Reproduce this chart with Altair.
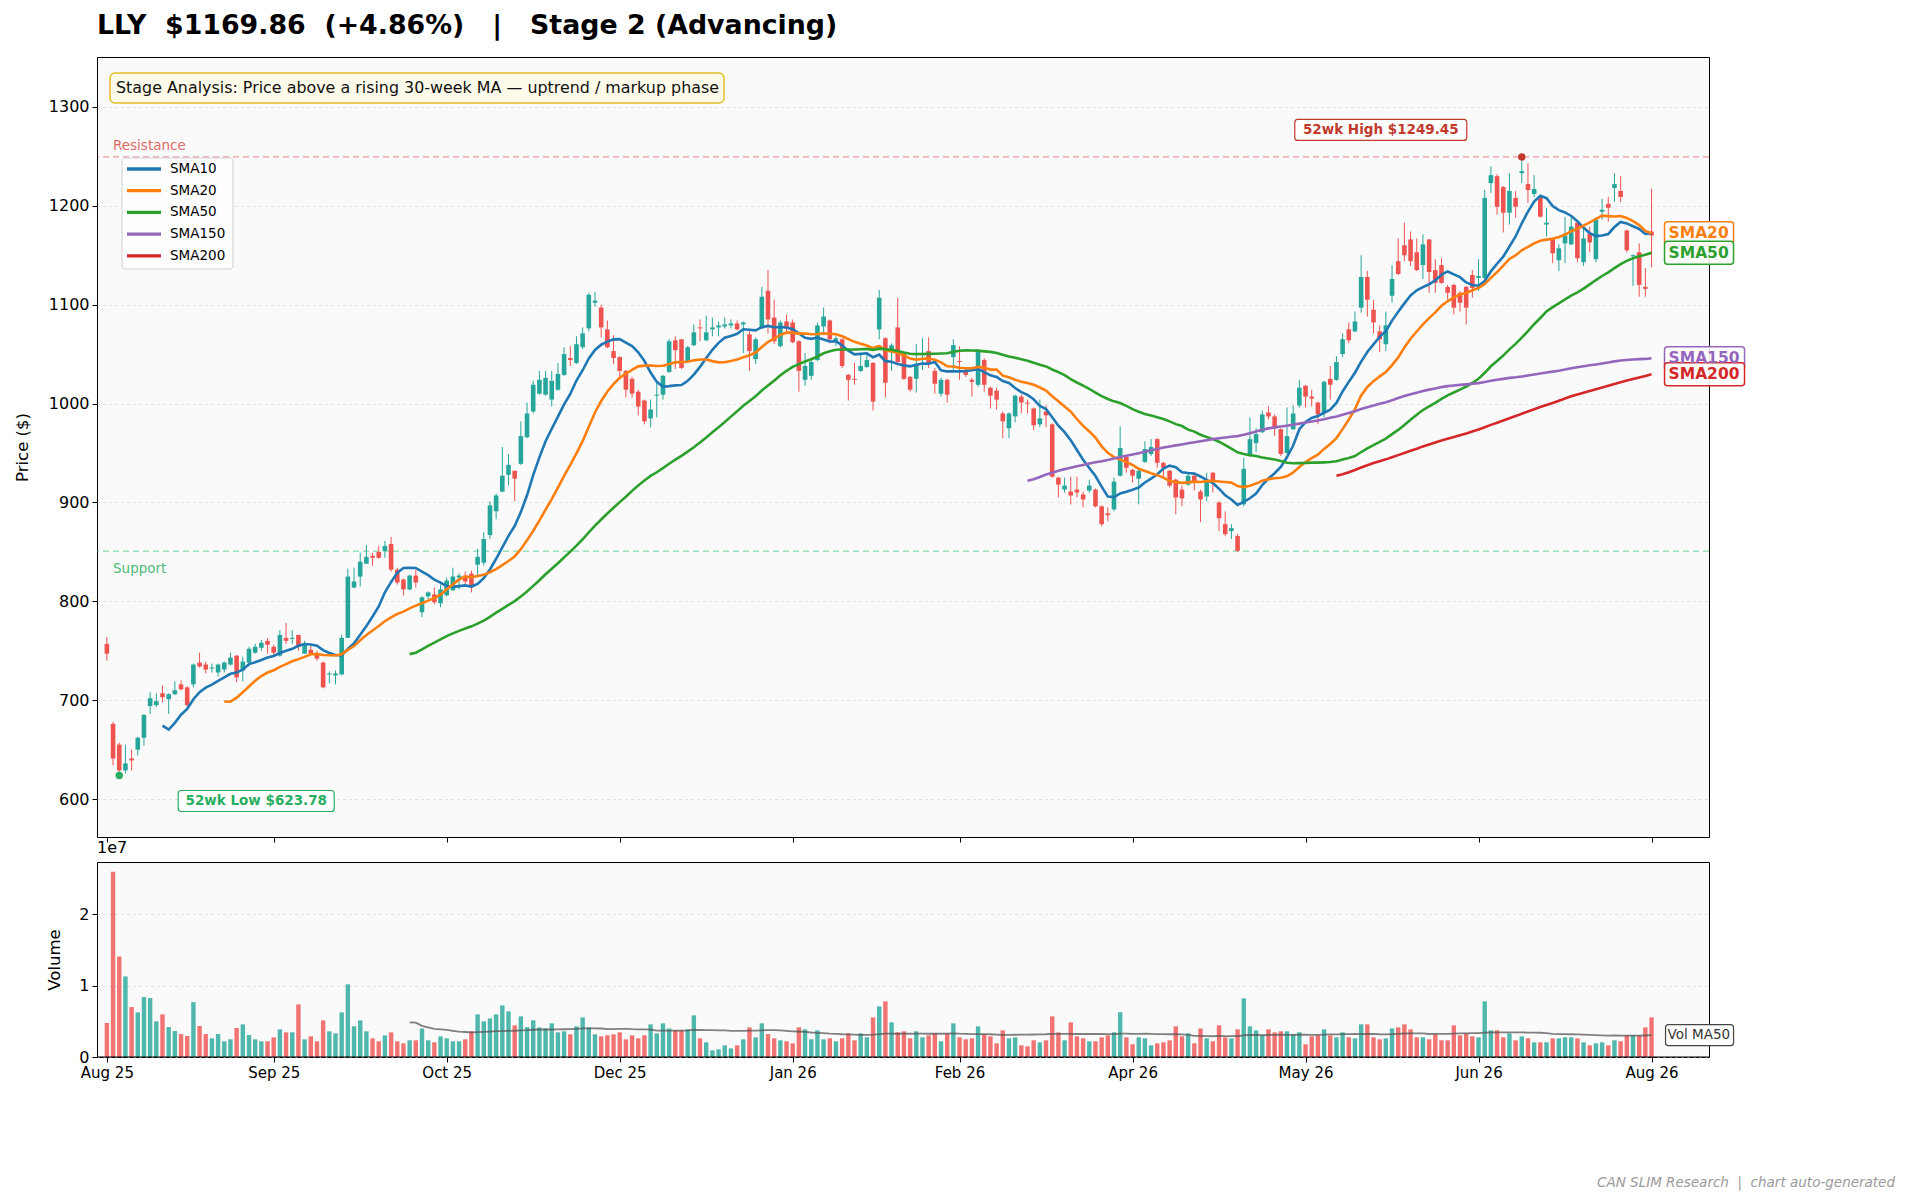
import altair as alt
import pandas as pd

TICKER = "LLY"
LAST_PRICE = 1169.86
CHANGE_PCT = 4.86
STAGE = "Stage 2 (Advancing)"
STAGE_NOTE = "Stage Analysis: Price above a rising 30-week MA \u2014 uptrend / markup phase"
RESISTANCE = 1249.45
SUPPORT = 850.8
FOOTER = "CAN SLIM Research\u00a0\u00a0|\u00a0\u00a0chart auto-generated"

TICK_POS = [0, 27, 55, 83, 111, 138, 166, 194, 222, 250]
TICK_LABELS = ["Aug 25", "Sep 25", "Oct 25", "Dec 25", "Jan 26", "Feb 26",
               "Apr 26", "May 26", "Jun 26", "Aug 26"]

SMA_NAMES = ["SMA10", "SMA20", "SMA50", "SMA150", "SMA200"]
SMA_PERIODS = [10, 20, 50, 150, 200]
SMA_COLORS = ["#1f77b4", "#ff7f0e", "#2ca02c", "#9467bd", "#d62728"]

opens = [
    757, 676, 655, 629, 641, 650, 662, 694, 695, 707,
    701, 706, 716, 713, 716, 738, 736, 732, 728, 731,
    736, 745, 730, 738, 748, 753, 760, 754, 745, 763,
    762, 766, 747, 751, 747, 738, 726, 725, 726, 763,
    814, 825, 838, 846, 850, 851, 858, 832, 822, 812,
    826, 789, 805, 807, 798, 806, 811, 824, 826, 828,
    837, 839, 867, 891, 911, 928, 932, 939, 966, 992,
    1010, 1009, 1004, 1014, 1029, 1046, 1041, 1057, 1076, 1102,
    1097, 1075, 1053, 1047, 1033, 1025, 1012, 1003, 985, 1008,
    1009, 1032, 1064, 1065, 1042, 1059, 1077, 1064, 1075, 1077,
    1078, 1079, 1081, 1080, 1070, 1045, 1076, 1114, 1087, 1058,
    1083, 1082, 1063, 1024, 1028, 1044, 1078, 1084, 1064, 1065,
    1029, 1025, 1033, 1037, 1041, 1075, 1066, 1053, 1077, 1051,
    1027, 1025, 1049, 1053, 1033, 1010, 1024, 1047, 1043, 1034,
    1024, 1019, 1044, 1016, 1013, 990, 975, 987, 1007, 1001,
    995, 979, 992, 979, 925, 913, 911, 913, 908, 912,
    913, 896, 889, 893, 927, 946, 933, 924, 941, 949,
    964, 940, 932, 923, 913, 918, 927, 911, 906, 930,
    900, 878, 871, 866, 898, 948, 960, 971, 991, 987,
    974, 950, 974, 998, 1018, 1007, 1001, 991, 1025, 1024,
    1050, 1075, 1073, 1097, 1128, 1095, 1073, 1060, 1109, 1144,
    1160, 1166, 1153, 1140, 1166, 1135, 1140, 1118, 1120, 1112,
    1118, 1130, 1127, 1127, 1223, 1230, 1219, 1193, 1208, 1233,
    1222, 1212, 1209, 1181, 1167, 1145, 1162, 1161, 1183, 1143,
    1172, 1146, 1194, 1202, 1218, 1215, 1175, 1149, 1153, 1118,
    1174,
]
highs = [
    764, 678, 657, 655, 650, 663, 686, 708, 707, 715,
    707, 719, 720, 714, 737, 748, 739, 737, 737, 739,
    748, 746, 744, 754, 757, 761, 763, 756, 771, 778,
    771, 766, 760, 755, 750, 739, 729, 730, 766, 833,
    834, 849, 857, 849, 856, 861, 865, 834, 823, 827,
    832, 805, 810, 814, 817, 824, 834, 828, 830, 831,
    853, 870, 901, 909, 956, 949, 932, 982, 1001, 1023,
    1033, 1033, 1033, 1041, 1057, 1058, 1068, 1077, 1112, 1113,
    1100, 1084, 1069, 1048, 1034, 1027, 1014, 1004, 1004, 1023,
    1029, 1065, 1068, 1065, 1058, 1080, 1085, 1089, 1087, 1083,
    1087, 1085, 1084, 1083, 1075, 1067, 1118, 1135, 1105, 1084,
    1090, 1085, 1064, 1051, 1046, 1082, 1097, 1085, 1068, 1066,
    1030, 1041, 1050, 1051, 1042, 1115, 1067, 1061, 1107, 1052,
    1028, 1060, 1066, 1067, 1036, 1026, 1025, 1065, 1058, 1036,
    1026, 1055, 1046, 1017, 1016, 992, 991, 1009, 1009, 1004,
    996, 1004, 998, 980, 926, 925, 926, 926, 911, 923,
    914, 897, 895, 925, 977, 947, 934, 933, 962, 964,
    965, 941, 933, 924, 917, 930, 930, 913, 930, 931,
    901, 891, 878, 868, 945, 986, 975, 993, 997, 989,
    975, 996, 998, 1024, 1019, 1014, 1002, 1023, 1038, 1048,
    1071, 1082, 1093, 1150, 1134, 1105, 1079, 1093, 1140, 1167,
    1183, 1174, 1167, 1171, 1166, 1146, 1147, 1120, 1121, 1114,
    1119, 1135, 1146, 1216, 1240, 1232, 1220, 1233, 1215, 1249.45,
    1243, 1231, 1210, 1198, 1168, 1161, 1189, 1188, 1185, 1179,
    1179, 1186, 1207, 1209, 1233, 1230, 1176, 1151, 1162, 1137,
    1217,
]
lows = [
    740, 634, 623.78, 626, 629, 644, 654, 686, 693, 698,
    686, 705, 710, 693, 713, 733, 727, 728, 724, 728,
    735, 718, 719, 734, 747, 750, 747, 745, 744, 757,
    757, 750, 747, 746, 740, 712, 717, 716, 725, 763,
    813, 815, 838, 836, 843, 844, 830, 817, 806, 811,
    814, 784, 802, 797, 794, 805, 811, 812, 817, 809,
    826, 836, 863, 883, 910, 917, 901, 938, 965, 990,
    1009, 1008, 997, 1013, 1028, 1038, 1040, 1055, 1073, 1098,
    1067, 1056, 1040, 1027, 1006, 1006, 988, 979, 976, 986,
    1004, 1031, 1035, 1035, 1041, 1058, 1063, 1063, 1068, 1068,
    1076, 1076, 1074, 1051, 1033, 1040, 1076, 1071, 1060, 1057,
    1070, 1061, 1012, 1018, 1024, 1043, 1071, 1061, 1058, 1036,
    1003, 1019, 1032, 1036, 993, 1065, 1006, 1033, 1041, 1024,
    1012, 1011, 1034, 1036, 1010, 1007, 1001, 1034, 1024, 1027,
    1007, 1017, 1012, 995, 994, 965, 965, 981, 990, 990,
    973, 976, 976, 925, 905, 910, 898, 905, 895, 910,
    895, 876, 881, 891, 926, 930, 920, 898, 940, 947,
    935, 926, 915, 888, 896, 917, 912, 880, 901, 910,
    871, 866, 863, 850, 896, 946, 951, 970, 984, 967,
    947, 949, 973, 996, 996, 997, 979, 986, 1004, 1023,
    1047, 1061, 1072, 1092, 1088, 1071, 1052, 1053, 1102, 1130,
    1144, 1139, 1134, 1126, 1112, 1112, 1121, 1105, 1090, 1093,
    1080, 1107, 1114, 1126, 1213, 1191, 1173, 1181, 1188, 1223,
    1203, 1209, 1188, 1169, 1142, 1134, 1142, 1160, 1143, 1139,
    1153, 1143, 1186, 1184, 1204, 1204, 1153, 1119, 1108, 1108,
    1138,
]
closes = [
    747, 641, 629, 636, 639, 662, 685, 702, 699, 703,
    706, 710, 711, 695, 736, 734, 731, 733, 736, 738,
    743, 723, 739, 752, 754, 758, 756, 748, 766, 760,
    763, 754, 757, 747, 742, 713, 727, 727, 763, 825,
    820, 840, 845, 844, 844, 856, 832, 819, 812, 826,
    819, 804, 809, 799, 812, 821, 825, 826, 820, 814,
    845, 863, 897, 907, 927, 938, 924, 967, 990, 1019,
    1024, 1026, 1023, 1030, 1050, 1044, 1060, 1071, 1110, 1104,
    1077, 1057, 1046, 1033, 1014, 1010, 997, 982, 994, 1009,
    1028, 1063, 1054, 1036, 1057, 1072, 1076, 1072, 1077, 1079,
    1080, 1081, 1075, 1082, 1053, 1065, 1108, 1085, 1063, 1082,
    1076, 1062, 1033, 1038, 1042, 1079, 1088, 1065, 1066, 1038,
    1024, 1024, 1038, 1044, 1002, 1107, 1021, 1059, 1042, 1025,
    1014, 1040, 1051, 1041, 1020, 1024, 1009, 1059, 1042, 1029,
    1022, 1053, 1019, 1008, 1004, 982, 990, 1008, 1001, 1000,
    978, 985, 988, 926, 918, 917, 907, 910, 903, 917,
    896, 878, 887, 921, 955, 935, 927, 932, 954, 956,
    940, 935, 917, 905, 904, 927, 921, 903, 921, 922,
    884, 868, 874, 851, 934, 964, 969, 989, 987, 975,
    949, 967, 990, 1016, 1007, 1005, 989, 1022, 1019, 1042,
    1065, 1064, 1083, 1128, 1105, 1082, 1065, 1079, 1126, 1131,
    1150, 1144, 1135, 1161, 1133, 1122, 1122, 1112, 1097, 1102,
    1097, 1117, 1129, 1208, 1231, 1199, 1193, 1215, 1199, 1235,
    1216, 1217, 1189, 1183, 1152, 1157, 1170, 1179, 1147, 1167,
    1163, 1186, 1196, 1198, 1222, 1209, 1155, 1150, 1120, 1116,
    1169.86,
]
# volume in millions of shares
volumes = [
    4.77, 26.0, 14.1, 11.3, 7.0, 6.26, 8.4, 8.27, 5.0, 5.98,
    4.2, 3.64, 3.22, 2.94, 7.7, 4.35, 3.22, 2.62, 3.22, 2.2,
    2.48, 4.07, 4.58, 3.08, 2.48, 2.2, 2.2, 2.76, 3.88, 3.46,
    3.46, 7.38, 2.48, 2.9, 2.2, 5.14, 3.6, 3.32, 6.26, 10.2,
    4.3, 5.14, 3.6, 2.62, 2.2, 3.04, 3.46, 2.2, 1.92, 2.34,
    2.34, 4.0, 2.34, 2.06, 2.9, 2.62, 2.2, 2.2, 2.48, 3.6,
    5.98, 5.0, 5.42, 5.98, 7.24, 6.4, 4.44, 5.7, 4.2, 5.14,
    4.16, 4.0, 4.72, 3.46, 3.6, 3.18, 4.3, 5.56, 4.16, 3.18,
    2.9, 3.04, 3.18, 3.46, 2.48, 3.04, 2.62, 3.04, 4.58, 3.32,
    4.72, 4.0, 3.74, 3.74, 3.88, 5.84, 2.62, 2.06, 0.93, 1.07,
    1.64, 1.21, 1.64, 2.48, 4.16, 2.76, 4.72, 3.22, 2.62, 2.34,
    2.2, 1.92, 4.16, 3.88, 2.48, 3.74, 2.48, 2.62, 2.2, 2.62,
    3.32, 2.34, 3.32, 2.76, 5.56, 7.1, 7.8, 4.86, 3.46, 3.6,
    2.62, 3.6, 2.76, 3.04, 3.32, 2.2, 3.32, 4.72, 2.76, 2.48,
    2.62, 4.3, 3.18, 2.9, 1.92, 3.74, 2.62, 2.76, 1.64, 1.5,
    2.34, 2.06, 2.34, 5.7, 3.46, 2.34, 4.86, 2.9, 2.62, 2.2,
    2.2, 2.76, 3.04, 3.46, 6.26, 2.76, 1.78, 2.76, 2.62, 1.64,
    1.92, 2.06, 2.34, 4.3, 2.9, 3.32, 1.92, 4.0, 2.62, 2.2,
    4.44, 2.76, 2.62, 3.88, 8.22, 4.3, 3.74, 3.04, 3.88, 3.46,
    3.6, 3.6, 3.18, 3.46, 1.78, 2.9, 3.04, 3.88, 3.04, 2.76,
    3.46, 2.76, 2.62, 4.58, 4.58, 2.76, 2.48, 2.62, 4.0, 4.16,
    4.58, 3.88, 2.76, 2.76, 2.48, 3.18, 2.34, 2.34, 4.44, 3.04,
    3.32, 2.9, 2.76, 7.8, 3.74, 3.74, 2.76, 3.32, 2.34, 2.9,
    2.62, 2.06, 2.06, 2.06, 2.62, 2.62, 2.76, 2.76, 2.62, 2.06,
    1.64, 1.92, 2.06, 1.64, 2.34, 2.2, 3.04, 3.04, 3.04, 4.16,
    5.56,
]

N = len(closes)
df = pd.DataFrame({"i": list(range(N)), "open": opens, "high": highs,
                   "low": lows, "close": closes, "vol": volumes})
one = pd.DataFrame({"k": [0]})

FONT = "DejaVu Sans"
W, HP, HV = 1612, 780, 195
UP, DOWN = "#26a69a", "#ef5350"

xs = alt.Scale(domain=[-1.6, 259.3], nice=False, zero=False, padding=0)
ys = alt.Scale(domain=[561.6, 1350.5], nice=False, zero=False, padding=0)
vs = alt.Scale(domain=[0, 27.35], nice=False, padding=0)
sma_scale = alt.Scale(domain=SMA_NAMES, range=SMA_COLORS)
candle_color = alt.condition("datum.close >= datum.open", alt.value(UP), alt.value(DOWN))


def box_path(w, h, r=3.0):
    hy = h / w
    rr = 2.0 * r / w
    a = 1 - rr
    b = hy - rr
    f = lambda v: f"{v:.4f}"
    return (f"M{f(-a)},{f(-hy)}L{f(a)},{f(-hy)}Q1,{f(-hy)} 1,{f(-b)}L1,{f(b)}Q1,{f(hy)} {f(a)},{f(hy)}"
            f"L{f(-a)},{f(hy)}Q-1,{f(hy)} -1,{f(b)}L-1,{f(-b)}Q-1,{f(-hy)} {f(-a)},{f(-hy)}Z")


def add_sma(ch):
    for n, name in zip(SMA_PERIODS, SMA_NAMES):
        ch = ch.transform_window(**{f"m{n}": "mean(close)", f"c{n}": "count()"},
                                 frame=[-(n - 1), 0],
                                 sort=[alt.SortField("i", order="ascending")])
        ch = ch.transform_calculate(**{name: f"datum.c{n} >= {n} ? datum.m{n} : null"})
    return ch.transform_fold(SMA_NAMES, as_=["ma", "val"]).transform_filter("isValid(datum.val)")


# ---------------- price panel ----------------
price_x = alt.X("i:Q", scale=xs, axis=alt.Axis(values=TICK_POS, labels=False, ticks=True, tickSize=5,
                                               tickColor="#000", domain=False, grid=False, title=None))
price_y = alt.Y("low:Q", scale=ys, axis=alt.Axis(
    values=list(range(600, 1301, 100)), format="d", title="Price ($)", titleFontSize=16.5,
    titleFontWeight="normal", titlePadding=18, titleColor="#000", labelFontSize=16, labelColor="#000",
    labelPadding=3, tickSize=5, tickColor="#000", domain=False, grid=True, gridColor="#d8d8d8",
    gridDash=[2, 4]))

wicks = alt.Chart(df).mark_rule(strokeWidth=1).encode(x=price_x, y=price_y, y2="high:Q", color=candle_color)
bodies = alt.Chart(df).mark_bar(width=4.6).encode(x="i:Q", y="open:Q", y2="close:Q", color=candle_color)

sma_lines = add_sma(alt.Chart(df)).mark_line(strokeWidth=2.6).encode(
    x="i:Q", y="val:Q", color=alt.Color("ma:N", scale=sma_scale, legend=None))

res_rule = alt.Chart(one).mark_rule(strokeDash=[6, 4], strokeWidth=1.3, color="#d62728", opacity=0.45).encode(
    y=alt.datum(RESISTANCE))
sup_rule = alt.Chart(one).mark_rule(strokeDash=[6, 4], strokeWidth=1.3, color="#2ecc71", opacity=0.6).encode(
    y=alt.datum(SUPPORT))
res_text = alt.Chart(one).mark_text(text="Resistance", align="left", baseline="alphabetic", dy=-7, fontSize=13.5,
                                    color="#d9534f", opacity=0.85).encode(x=alt.value(16), y=alt.datum(RESISTANCE))
sup_text = alt.Chart(one).mark_text(text="Support", align="left", baseline="alphabetic", dy=22, fontSize=13.5,
                                    color="#3cb371", opacity=0.9).encode(x=alt.value(16), y=alt.datum(SUPPORT))

stage_box = alt.Chart(one).mark_rect(fill="#fffbea", stroke="#e3bd2a", strokeWidth=1.5, cornerRadius=5).encode(
    x=alt.value(13), x2=alt.value(627), y=alt.value(16), y2=alt.value(46))
stage_text = alt.Chart(one).mark_text(text=STAGE_NOTE, align="left", baseline="middle", fontSize=15.9,
                                      color="#111").encode(x=alt.value(19), y=alt.value(31))

TITLE = (f"{TICKER}\u00a0\u00a0${LAST_PRICE:.2f}\u00a0\u00a0(+{CHANGE_PCT:.2f}%)"
         f"\u00a0\u00a0\u00a0|\u00a0\u00a0\u00a0{STAGE}")
title_text = alt.Chart(one).mark_text(text=TITLE, align="left", baseline="alphabetic", fontSize=26.8,
                                      fontWeight="bold", color="#000").encode(x=alt.value(0), y=alt.value(-23))

# manual legend
legend_layers = [alt.Chart(one).mark_rect(fill="white", stroke="#cccccc", strokeWidth=1, cornerRadius=3,
                                          opacity=0.9).encode(
    x=alt.value(25), x2=alt.value(136), y=alt.value(101), y2=alt.value(212))]
for k, (name, colr) in enumerate(zip(SMA_NAMES, SMA_COLORS)):
    ly = 112 + k * 21.7
    legend_layers.append(alt.Chart(one).mark_rule(strokeWidth=3.3, color=colr).encode(
        x=alt.value(30), x2=alt.value(64), y=alt.value(ly)))
    legend_layers.append(alt.Chart(one).mark_text(text=name, align="left", baseline="middle", fontSize=13.5,
                                                  color="#000").encode(x=alt.value(73), y=alt.value(ly)))

# 52-week high / low markers
hi = max(highs)
i_hi = highs.index(hi)
lo = min(lows)
i_lo = lows.index(lo)
HI_C, LO_C = "#c0392b", "#27ae60"
hi_dot = alt.Chart(one).mark_circle(size=55, color=HI_C, opacity=1).encode(x=alt.datum(i_hi), y=alt.datum(hi))
hi_box = alt.Chart(one).mark_point(shape=box_path(172, 21), size=172 * 172, filled=True, fill="white",
                                   stroke=HI_C, strokeWidth=1.2, opacity=1, xOffset=-141, yOffset=-27).encode(
    x=alt.datum(i_hi), y=alt.datum(hi))
hi_text = alt.Chart(one).mark_text(text=f"52wk High ${hi:.2f}", align="center", baseline="middle", dx=-141, dy=-27,
                                   fontSize=13.5, fontWeight="bold", color=HI_C).encode(
    x=alt.datum(i_hi), y=alt.datum(hi))
lo_dot = alt.Chart(one).mark_circle(size=55, color=LO_C, opacity=1).encode(x=alt.datum(i_lo), y=alt.datum(lo))
lo_box = alt.Chart(one).mark_point(shape=box_path(156, 21), size=156 * 156, filled=True, fill="white",
                                   stroke=LO_C, strokeWidth=1.2, opacity=1, xOffset=137, yOffset=25.5).encode(
    x=alt.datum(i_lo), y=alt.datum(lo))
lo_text = alt.Chart(one).mark_text(text=f"52wk Low ${lo:.2f}", align="center", baseline="middle", dx=137, dy=25.5,
                                   fontSize=13.5, fontWeight="bold", color=LO_C).encode(
    x=alt.datum(i_lo), y=alt.datum(lo))

# right-edge SMA labels
last_sma = add_sma(alt.Chart(df)).transform_filter(f"datum.i == {N - 1}")
label_layers = []
for names, bw in ((["SMA20", "SMA50"], 69), (["SMA150", "SMA200"], 80)):
    sel = last_sma.transform_filter(alt.FieldOneOfPredicate(field="ma", oneOf=names))
    label_layers.append(sel.mark_point(shape=box_path(bw, 23), size=bw * bw, filled=True, fill="white",
                                       fillOpacity=0.9, strokeWidth=1.5, opacity=1, xOffset=13 + bw / 2).encode(
        x="i:Q", y="val:Q", stroke=alt.Stroke("ma:N", scale=sma_scale, legend=None)))
    label_layers.append(sel.mark_text(align="left", baseline="middle", dx=17, fontSize=15.5,
                                      fontWeight="bold").encode(
        x="i:Q", y="val:Q", text="ma:N", color=alt.Color("ma:N", scale=sma_scale, legend=None)))

price = alt.layer(
    stage_box, stage_text, res_rule, sup_rule, res_text, sup_text,
    wicks, bodies, sma_lines,
    *legend_layers,
    hi_dot, hi_box, hi_text, lo_dot, lo_box, lo_text,
    *label_layers, title_text,
).properties(width=W, height=HP)

# ---------------- volume panel ----------------
label_expr = ("[" + ",".join(f"'{s}'" for s in TICK_LABELS) + "][indexof(["
              + ",".join(str(p) for p in TICK_POS) + "], datum.value)]")
vol_x = alt.X("i:Q", scale=xs, axis=alt.Axis(values=TICK_POS, labelExpr=label_expr, labelFontSize=15,
                                             labelColor="#000", labelPadding=3, tickSize=5, tickColor="#000",
                                             domain=False, grid=False, title=None))
vol_y = alt.Y("vol:Q", scale=vs, axis=alt.Axis(
    values=[0, 10, 20], labelExpr="datum.value / 10", title="Volume", titleFontSize=16.5,
    titleFontWeight="normal", titlePadding=16, titleColor="#000", labelFontSize=16, labelColor="#000",
    labelPadding=3, tickSize=5, tickColor="#000", domain=False, grid=True, gridColor="#d8d8d8",
    gridDash=[2, 4]))

vol_bars = alt.Chart(df).mark_bar(width=4.4, opacity=0.8).encode(x=vol_x, y=vol_y, color=candle_color)
vol_ma_base = alt.Chart(df).transform_window(
    vm="mean(vol)", vc="count()", frame=[-49, 0], sort=[alt.SortField("i", order="ascending")]
).transform_filter("datum.vc >= 50")
vol_ma = vol_ma_base.mark_line(color="#555555", strokeWidth=1.8, opacity=0.75).encode(x="i:Q", y="vm:Q")
vol_last = vol_ma_base.transform_filter(f"datum.i == {N - 1}")
vol_box = vol_last.mark_point(shape=box_path(68, 21), size=68 * 68, filled=True, fill="white", stroke="#444444",
                              strokeWidth=1.2, opacity=1, xOffset=48).encode(x="i:Q", y="vm:Q")
vol_text = vol_last.mark_text(text="Vol MA50", align="left", baseline="middle", dx=16, fontSize=13.5,
                              color="#333333").encode(x="i:Q", y="vm:Q")
base_rule = alt.Chart(one).mark_rule(color="#000000", strokeWidth=1).encode(y=alt.datum(0))
offset_text = alt.Chart(one).mark_text(text="1e7", align="left", baseline="middle", fontSize=16,
                                       color="#000").encode(x=alt.value(0), y=alt.value(-14))
footer = alt.Chart(one).mark_text(text=FOOTER, align="right", baseline="alphabetic", fontSize=13.5,
                                  fontStyle="italic", color="#9a9a9a").encode(x=alt.value(1798), y=alt.value(325))

volume = alt.layer(vol_bars, vol_ma, base_rule, vol_box, vol_text, offset_text, footer).properties(
    width=W, height=HV)

chart = alt.vconcat(price, volume, spacing=25, bounds="flush").properties(
    padding={"left": 5, "top": 4, "right": 0, "bottom": 2}, background="white"
).configure(font=FONT).configure_view(fill="#fafafa", stroke="#000000", strokeWidth=1)

chart.save("out.html", embed_options={"renderer": "svg", "actions": False})
